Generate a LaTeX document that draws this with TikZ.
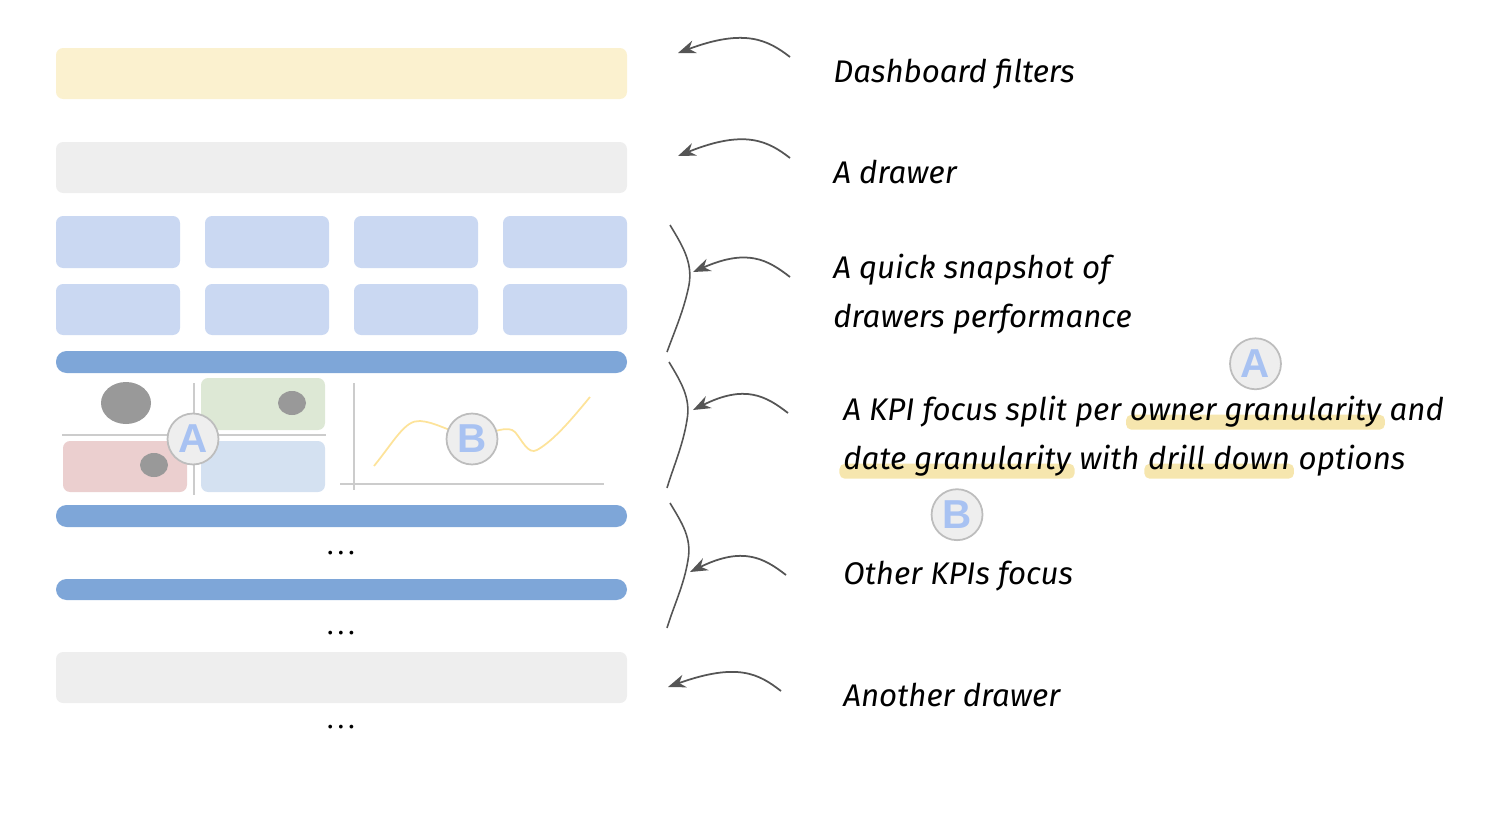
\documentclass[tikz,border=0pt]{standalone}
\usepackage{fontspec}
\setmainfont{Fira Sans}
\newfontfamily\badgefont{Liberation Sans}
\newfontfamily\dotsfont{Liberation Serif}
\usetikzlibrary{arrows.meta,positioning,backgrounds}
\definecolor{filteryellow}{HTML}{FBF1CF}
\definecolor{drawergrey}{HTML}{EEEEEE}
\definecolor{tileblue}{HTML}{CAD8F2}
\definecolor{barblue}{HTML}{7EA6D8}
\definecolor{dotgrey}{HTML}{999999}
\definecolor{kpigreen}{HTML}{DDE8D5}
\definecolor{kpired}{HTML}{EBCFCF}
\definecolor{kpiblue}{HTML}{D4E1F1}
\definecolor{axisgrey}{HTML}{CCCCCC}
\definecolor{curveyellow}{HTML}{FDE39A}
\definecolor{badgefill}{HTML}{EEEEEE}
\definecolor{badgeline}{HTML}{BDBDBD}
\definecolor{badgeblue}{HTML}{A8C2F2}
\definecolor{arrowgrey}{HTML}{555555}
\definecolor{hlyellow}{HTML}{F6E6AE}
\begin{document}
\begin{tikzpicture}[x=0.02cm,y=-0.02cm,
	panel/.style={rounded corners=4pt},
	bar/.style={fill=barblue,rounded corners=6pt},
	txt/.style={font=\fontsize{17.8}{21}\selectfont\itshape,inner sep=0pt},
	dotsnode/.style={font=\dotsfont\fontsize{18}{20}\selectfont,inner sep=0pt,anchor=base},
	badge/.style={circle,draw=badgeline,fill=badgefill,line width=1pt,minimum size=29pt,inner sep=0pt,text=badgeblue,font=\badgefont\bfseries\fontsize{23}{23}\selectfont},
	pointer/.style={draw=arrowgrey,line width=1pt,-{Stealth[length=10pt,width=7.5pt]}},
	brace/.style={draw=arrowgrey,line width=0.9pt},
	hl/.style={fill=hlyellow,rounded corners=3pt}]
	\useasboundingbox (0,0) rectangle (1502,822);
	\fill[filteryellow,panel] (56,48) rectangle (627,99);
	\fill[drawergrey,panel] (56,142) rectangle (627,193);
	\foreach \x in {56,205,354,503} {
		\fill[tileblue,panel] (\x,216) rectangle +(124,52);
		\fill[tileblue,panel] (\x,284) rectangle +(124,51);
	}
	\fill[bar] (56,351) rectangle (627,373);
	\draw[axisgrey,line width=1pt] (62,435) -- (326,435) (194,383) -- (194,495);
	\fill[kpigreen,panel] (201,378) rectangle (325,430);
	\fill[kpired,panel] (63,441) rectangle (187,492);
	\fill[kpiblue,panel] (201,441) rectangle (325,492);
	\fill[dotgrey] (126,403) ellipse [x radius=25,y radius=21];
	\fill[dotgrey] (292,403) ellipse [x radius=14,y radius=12];
	\fill[dotgrey] (154,465) ellipse [x radius=14,y radius=12];
	\draw[axisgrey,line width=1pt] (354,383) -- (354,490) (340,484) -- (604,484);
	\draw[curveyellow,line width=1pt] (374,466) .. controls (395,440) and (405,420) .. (420,421) .. controls (435,422) and (445,430) .. (472,437) .. controls (495,432) and (508,425) .. (515,432) .. controls (522,440) and (528,455) .. (537,450) .. controls (555,440) and (575,415) .. (590,397);
	\node[badge] (panela) at (193,439) {A};
	\node[badge] (panelb) at (472,439) {B};
	\fill[bar] (56,505) rectangle (627,527);
	\node[dotsnode] (more1) at (341,554) {\dots};
	\fill[bar] (56,579) rectangle (627,600);
	\node[dotsnode] (more2) at (341,634) {\dots};
	\fill[drawergrey,panel] (56,652) rectangle (627,703);
	\node[dotsnode] (more3) at (341,728) {\dots};

	\node[txt,anchor=base west] (tfilter) at (833,82) {Dashboard filters};
	\node[txt,anchor=base west] (tdrawer) at (833,183) {A drawer};
	\node[txt,anchor=base west] (tsnap1) at (833,278) {A quick snapshot of};
	\node[txt,anchor=base west] (tsnap2) at (833,327) {drawers performance};
	\node[txt,anchor=base west] (tkpi) at (843,420) {A KPI focus split per};
	\node[txt,base right=4.5pt of tkpi] (towner) {owner granularity};
	\node[txt,base right=4.5pt of towner] (tand) {and};
	\node[txt,anchor=base west] (tdate) at (843,469) {date granularity};
	\node[txt,base right=4.5pt of tdate] (twith) {with};
	\node[txt,base right=4.5pt of twith] (tdrill) {drill down};
	\node[txt,base right=4.5pt of tdrill] (topt) {options};
	\node[txt,anchor=base west] (tother) at (843,584) {Other KPIs focus};
	\node[txt,anchor=base west] (tanother) at (843,706) {Another drawer};
	\begin{pgfonlayer}{background}
		\fill[hl] ([xshift=-2pt,yshift=-5.5pt]towner.base west) rectangle ([xshift=2pt,yshift=3pt]towner.base east);
		\fill[hl] ([xshift=-2pt,yshift=-5.5pt]tdate.base west) rectangle ([xshift=2pt,yshift=3pt]tdate.base east);
		\fill[hl] ([xshift=-2pt,yshift=-5.5pt]tdrill.base west) rectangle ([xshift=2pt,yshift=3pt]tdrill.base east);
	\end{pgfonlayer}
	\node[badge] (texta) at ([yshift=32pt]towner.base) {A};
	\node[badge] (textb) at ([yshift=-26pt]tdate.base) {B};

	\coordinate (fromfilter) at (790,57);
	\coordinate (tofilter) at (678,53);
	\coordinate (fromdrawer) at (790,158);
	\coordinate (todrawer) at (678,156);
	\coordinate (fromsnap) at (790,277);
	\coordinate (tosnap) at (693,272);
	\coordinate (fromkpi) at (788,413);
	\coordinate (tokpi) at (693,410);
	\coordinate (fromother) at (786,575);
	\coordinate (toother) at (690,572);
	\coordinate (fromanother) at (781,691);
	\coordinate (toanother) at (668,687);
	\draw[pointer] (fromfilter) .. controls (768,40) and (745,28) .. (tofilter);
	\draw[pointer] (fromdrawer) .. controls (768,141) and (745,129) .. (todrawer);
	\draw[pointer] (fromsnap) .. controls (768,260) and (748,248) .. (tosnap);
	\draw[pointer] (fromkpi) .. controls (766,396) and (745,384) .. (tokpi);
	\draw[pointer] (fromother) .. controls (764,558) and (743,546) .. (toother);
	\draw[pointer] (fromanother) .. controls (759,674) and (738,662) .. (toanother);
	\draw[brace] (670,225) .. controls (682,245) and (693,262) .. (689,285) .. controls (684,310) and (675,330) .. (667,352);
	\draw[brace] (669,362) .. controls (681,382) and (691,398) .. (687,420) .. controls (683,445) and (674,465) .. (667,488);
	\draw[brace] (670,503) .. controls (682,523) and (692,538) .. (688,560) .. controls (684,585) and (674,605) .. (667,628);
\end{tikzpicture}
\end{document}
